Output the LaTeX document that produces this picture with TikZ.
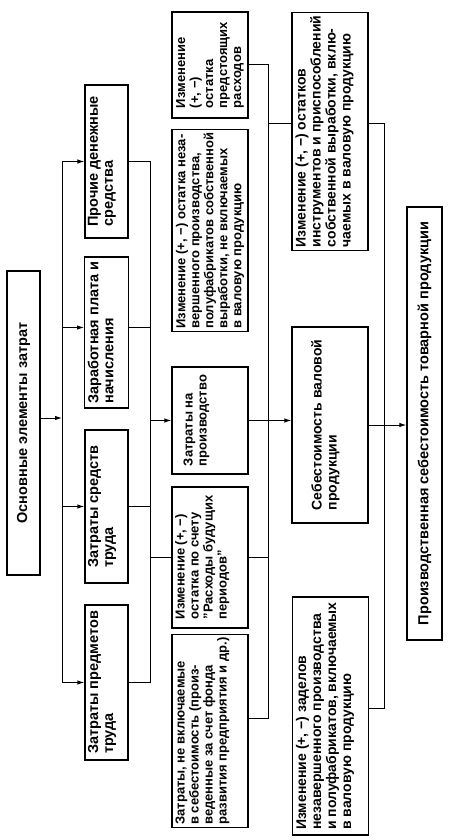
\documentclass[tikz,border=0pt]{standalone}
\usepackage{fontspec}
\setmainfont{Liberation Sans}
\usetikzlibrary{arrows.meta}

% отступ под последней строкой (текст прижат к верху блока)
\newcommand{\otstup}[1]{\rule[-#1pt]{0pt}{#1pt}}

\tikzset{
  blok/.style={draw, line width=1.3pt, rotate=90, align=left, inner sep=3pt},
  lin/.style={line width=1pt},
  strel/.style={lin, -{Latex[length=7pt,width=4.5pt]}},
  shrA/.style={font=\fontsize{14.5}{15}\selectfont\bfseries},
  shrB/.style={font=\fontsize{13}{14}\selectfont\bfseries},
  shrC/.style={font=\fontsize{14}{15}\selectfont\bfseries}
}

\begin{document}
\begin{tikzpicture}[x=1pt, y=-1pt]
    \useasboundingbox (0,0) rectangle (453,840);

    % --- ОСНОВНЫЕ ЭЛЕМЕНТЫ ---
    \node[blok, shrA, align=center, minimum width=304, minimum height=33] (osn) at (23.5,423) {Основные элементы затрат};

    % --- ЭЛЕМЕНТЫ ЗАТРАТ ---
    \node[blok, shrA, minimum width=153, minimum height=43] (proch) at (106.5,161.5) {Прочие денежные\\средства\otstup{12}};
    \node[blok, shrA, minimum width=151, minimum height=43] (zarpl) at (106.5,332.5) {Заработная плата и\\начисления\otstup{12}};
    \node[blok, shrA, minimum width=153, minimum height=43] (sredstv) at (106.5,506.5) {Затраты средств\\труда\otstup{12}};
    \node[blok, shrA, minimum width=155, minimum height=43] (predm) at (106.5,682.5) {Затраты предметов\\труда\otstup{12}};

    % --- ТРЕТИЙ РЯД ---
    \node[blok, shrB, minimum width=106, minimum height=76] (predst) at (210,65) {Изменение\\(+, −)\\остатка\\предстоящих\\расходов};
    \node[blok, shrB, minimum width=195, minimum height=76] (nezav) at (210,230.5) {Изменение (+, −) остатка неза-\\вершенного производства,\\полуфабрикатов собственной\\выработки, не включаемых\\в валовую продукцию};
    \node[blok, shrB, minimum width=107, minimum height=76] (zatrpr) at (210,420.5) {Затраты на\\производство\otstup{30}};
    \node[blok, shrB, minimum width=141, minimum height=76] (rbp) at (210,557.5) {Изменение (+, −)\\остатка по счету\\"Расходы будущих\\периодов"\otstup{18}};
    \node[blok, shrB, minimum width=188, minimum height=76] (nevkl) at (210,731) {Затраты, не включаемые\\в себестоимость (произ-\\веденные за счет фонда\\развития предприятия и др.)\otstup{18}};

    % --- ЧЕТВЕРТЫЙ РЯД ---
    \node[blok, shrC, minimum width=237, minimum height=76] (instr) at (330,131.5) {Изменение (+, −) остатков\\инструментов и приспособлений\\собственной выработки, вклю-\\чаемых в валовую продукцию\otstup{14}};
    \node[blok, shrC, minimum width=196, minimum height=76] (sebval) at (330,425) {Себестоимость валовой\\продукции\otstup{12}};
    \node[blok, shrC, minimum width=238, minimum height=76] (zadel) at (330.5,716) {Изменение (+, −) заделов\\незавершенного производства\\и полуфабрикатов, включаемых\\в валовую продукцию\otstup{14}};

    % --- ИТОГ ---
    \node[blok, shrA, align=center, minimum width=433, minimum height=35] (proizv) at (424.5,423.5) {Производственная себестоимость товарной продукции};

    % --- ШИНЫ ---
    \coordinate (sh1) at (62,0);
    \coordinate (sh2) at (150,0);
    \coordinate (sh3) at (268,0);
    \coordinate (sh4) at (384,0);

    % --- СВЯЗИ ---
    \draw[strel] ([yshift=5pt]osn.south) -- ([yshift=5pt]osn.south -| sh1);
    \draw[lin, {Latex[length=7pt,width=4.5pt]}-{Latex[length=7pt,width=4.5pt]}] (proch.north) -- (proch.north -| sh1) -- (predm.north -| sh1) -- (predm.north);
    \draw[strel] ([yshift=5pt]zarpl.north -| sh1) -- ([yshift=5pt]zarpl.north);
    \draw[strel] (sredstv.north -| sh1) -- (sredstv.north);

    \draw[lin] (proch.south) -- (proch.south -| sh2) -- (predm.south -| sh2) -- (predm.south);
    \draw[lin] ([yshift=5pt]zarpl.south) -- ([yshift=5pt]zarpl.south -| sh2);
    \draw[lin] (sredstv.south) -- (sredstv.south -| sh2);
    \draw[strel] (zatrpr.north -| sh2) -- (zatrpr.north);
    \draw[lin] (rbp.north -| sh2) -- (rbp.north);

    \draw[strel] (zatrpr.south) -- (zatrpr.south -| sebval.north);
    \draw[lin] (predst.south) -- (predst.south -| sh3) -- ([yshift=13pt]nevkl.south -| sh3) -- ([yshift=13pt]nevkl.south);
    \draw[lin] (rbp.south) -- (rbp.south -| sh3);
    \draw[lin] ([yshift=8pt]instr.north -| sh3) -- ([yshift=8pt]instr.north);

    \draw[lin] ([yshift=8pt]instr.south) -- ([yshift=8pt]instr.south -| sh4) -- ([yshift=8pt]zadel.south -| sh4) -- ([yshift=8pt]zadel.south);
    \draw[strel] (sebval.south) -- (sebval.south -| proizv.north);
\end{tikzpicture}
\end{document}
